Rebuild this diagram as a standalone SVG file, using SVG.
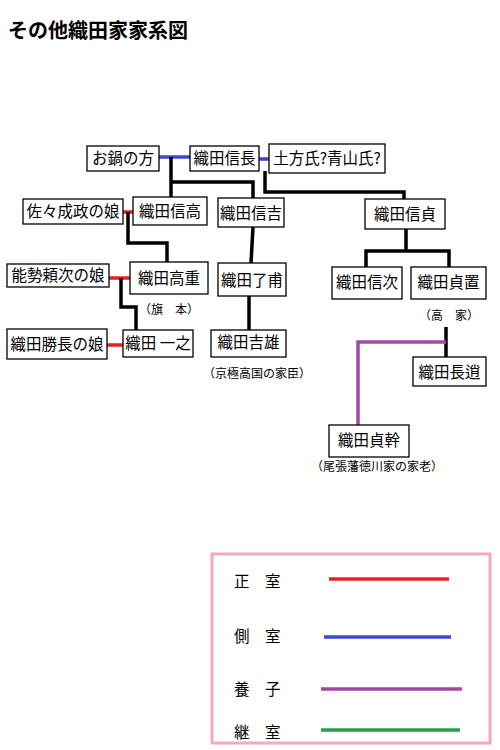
<svg xmlns="http://www.w3.org/2000/svg" width="500" height="750" viewBox="0 0 500 750">
<style>
text{font-family:"Noto Sans CJK JP","Liberation Serif",serif;fill:#000}
.b rect{fill:#fff;stroke:#000;stroke-width:1.3}
.b text{font-size:15.5px;text-anchor:middle}
.n{font-size:12px;text-anchor:middle}
.k{fill:none;stroke:#000;stroke-width:3.5}
.r{fill:none;stroke:#ee1c24;stroke-width:3.5}
.bl{fill:none;stroke:#3f48cc;stroke-width:3.5}
.p{fill:none;stroke:#a349a4;stroke-width:3.5}
.g{fill:none;stroke:#22a050;stroke-width:3.5}
.lg{font-size:15.5px}
</style>
<rect width="500" height="750" fill="#fff"/>
<text x="8" y="38" style="font-size:20px;font-weight:bold">その他織田家家系図</text>

<g id="connectors">
<path class="bl" d="M159,157H190"/>
<path class="bl" d="M259,159H269"/>
<path class="k" d="M171,157V197M171,182H253V198"/>
<path class="k" d="M265,171V192H404V199"/>
<path class="r" d="M123,212H133"/>
<path class="k" d="M128,212V243H167V262"/>
<path class="r" d="M109,278H130"/>
<path class="k" d="M121,278V307H136V330"/>
<path class="r" d="M107,345H123"/>
<path class="k" d="M253,227L251,263"/>
<path class="k" d="M249,296V330"/>
<path class="k" d="M406,229V251M366,267V251H449V267"/>
<path class="k" d="M446,327V357"/>
<path class="p" d="M446,342H358V425"/>
</g>

<g id="n_onabe" class="b"><rect x="87" y="146" width="72" height="25"/><text x="123" y="164">お鍋の方</text></g>
<g id="n_nobunaga" class="b"><rect x="190" y="146" width="69" height="25"/><text x="224.5" y="164">織田信長</text></g>
<g id="n_hijikata" class="b"><rect x="269" y="144" width="116" height="29"/><text x="327" y="164">土方氏?青山氏?</text></g>
<g id="n_sassa" class="b"><rect x="23" y="199" width="100" height="25"/><text x="73" y="217">佐々成政の娘</text></g>
<g id="n_nobutaka" class="b"><rect x="133" y="197" width="74" height="28"/><text x="170" y="217">織田信高</text></g>
<g id="n_nobuyoshi" class="b"><rect x="218" y="198" width="66" height="29"/><text x="251" y="219">織田信吉</text></g>
<g id="n_nobusada" class="b"><rect x="365" y="199" width="80" height="30"/><text x="405" y="220">織田信貞</text></g>
<g id="n_nose" class="b"><rect x="7" y="264" width="102" height="23"/><text x="58" y="281">能勢頼次の娘</text></g>
<g id="n_takashige" class="b"><rect x="130" y="262" width="78" height="32"/><text x="169" y="284">織田高重</text></g>
<g id="n_ryoho" class="b"><rect x="218" y="263" width="68" height="33"/><text x="252" y="286">織田了甫</text></g>
<g id="n_nobutsugu" class="b"><rect x="332" y="267" width="70" height="32"/><text x="367" y="288">織田信次</text></g>
<g id="n_sadaoki" class="b"><rect x="411" y="267" width="75" height="32"/><text x="448.5" y="288">織田貞置</text></g>
<g id="n_katsunaga" class="b"><rect x="7" y="329" width="100" height="30"/><text x="57" y="350">織田勝長の娘</text></g>
<g id="n_kazuyuki" class="b"><rect x="123" y="330" width="70" height="27"/><text x="158" y="349">織田 一之</text></g>
<g id="n_yoshio" class="b"><rect x="211" y="330" width="75" height="27"/><text x="248.5" y="348">織田吉雄</text></g>
<g id="n_nagamichi" class="b"><rect x="413" y="357" width="73" height="29"/><text x="449.5" y="378">織田長逍</text></g>
<g id="n_sadamoto" class="b"><rect x="329" y="425" width="80" height="32"/><text x="369" y="446">織田貞幹</text></g>

<text class="n" x="169" y="314">（旗　本）</text>
<text class="n" x="257" y="378">（京極高国の家臣）</text>
<text class="n" x="449" y="320">（高　家）</text>
<text class="n" x="377" y="471">（尾張藩徳川家の家老）</text>

<g id="legend">
<rect x="212" y="554" width="278" height="189" fill="none" stroke="#f6a6c8" stroke-width="3"/>
<text class="lg" x="234" y="587">正　室</text>
<text class="lg" x="234" y="642">側　室</text>
<text class="lg" x="234" y="695">養　子</text>
<text class="lg" x="234" y="738">継　室</text>
<path class="r" d="M329,579H449" stroke-width="3"/>
<path class="bl" d="M324,637H451" stroke-width="3"/>
<path class="p" d="M321,689H462" stroke-width="3"/>
<path class="g" d="M321,730H460" stroke-width="3"/>
</g>
</svg>
